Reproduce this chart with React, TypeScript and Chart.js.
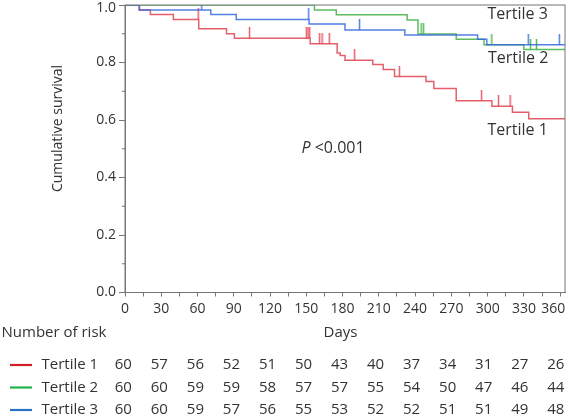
import React, { useEffect, useRef } from 'react';
import { Chart, registerables } from 'chart.js';

Chart.register(...registerables);

// ---------- data ----------
const xTickLabels = [0, 30, 60, 90, 120, 150, 180, 210, 240, 270, 300, 330, 360];
const yTickLabels = [0, 0.2, 0.4, 0.6, 0.8, 1.0];

// Tertile 1 (red)
const t1Days = [0, 12, 21, 40, 61, 84, 90.5, 153.2, 175.5, 178, 182, 205, 213.6, 223, 249, 255.5, 274, 303.5, 320.5, 334, 364];
const t1Surv = [1, 0.983, 0.967, 0.95, 0.917, 0.9, 0.884, 0.865, 0.833, 0.824, 0.808, 0.793, 0.776, 0.751, 0.734, 0.71, 0.667, 0.648, 0.627, 0.604, 0.604];
const t1Censor = [60.5, 103, 150, 151.4, 152.8, 161, 163, 169, 190, 227, 295, 309, 318.6];

// Tertile 2 (green)
const t2Days = [0, 156.7, 174.8, 233.4, 242.4, 274, 297, 330, 364];
const t2Surv = [1, 0.983, 0.966, 0.948, 0.899, 0.881, 0.862, 0.845, 0.845];
const t2Censor = [245, 247, 303.5, 335.5, 340.4];

// Tertile 3 (blue)
const t3Days = [0, 11.7, 71, 92, 152.3, 182, 231.5, 291.7, 299.3, 364];
const t3Surv = [1, 0.983, 0.967, 0.95, 0.934, 0.913, 0.896, 0.881, 0.862, 0.862];
const t3Censor = [63.5, 152, 194, 333.6, 359.3];

// Number at risk
const riskNames = ['Tertile 1', 'Tertile 2', 'Tertile 3'];
const riskT1 = [60, 57, 56, 52, 51, 50, 43, 40, 37, 34, 31, 27, 26];
const riskT2 = [60, 60, 59, 59, 58, 57, 57, 55, 54, 50, 47, 46, 44];
const riskT3 = [60, 60, 59, 57, 56, 55, 53, 52, 52, 51, 51, 49, 48];

// ---------- style ----------
const FONT = "'Open Sans', 'Noto Sans', sans-serif";
const AXIS = '#767676';
const TEXT = '#333333';
const RED = 'rgba(226, 66, 82, 0.85)';
const GREEN = 'rgba(64, 176, 64, 0.85)';
const BLUE = 'rgba(52, 106, 222, 0.85)';
const LEG_RED = '#d2202a';
const LEG_GREEN = '#22b04a';
const LEG_BLUE = '#2a72c4';

function survAt(days: number[], surv: number[], t: number) {
  let v = surv[0];
  for (let i = 0; i < days.length; i++) if (days[i] <= t) v = surv[i];
  return v;
}

function makeTick(color: string) {
  const c = document.createElement('canvas');
  c.width = 3;
  c.height = 22;
  const g = c.getContext('2d')!;
  g.strokeStyle = color;
  g.lineWidth = 1.5;
  g.beginPath();
  g.moveTo(1.5, 0);
  g.lineTo(1.5, 11);
  g.stroke();
  return c;
}

const overlay = {
  id: 'overlay',
  afterDatasetsDraw(chart: any) {
    const { ctx, chartArea: a, scales } = chart;
    const y = scales.y;
    ctx.save();
    ctx.strokeStyle = AXIS;
    ctx.lineWidth = 1;
    ctx.strokeRect(a.left, a.top, a.right - a.left, a.bottom - a.top);
    // minor y ticks
    ctx.beginPath();
    for (let v = 0.1; v < 1; v += 0.2) {
      const py = y.getPixelForValue(v);
      ctx.moveTo(a.left - 3, py);
      ctx.lineTo(a.left, py);
    }
    ctx.stroke();
    ctx.restore();
  },
  afterDraw(chart: any) {
    const { ctx, chartArea: a, scales } = chart;
    const x = scales.x;
    ctx.save();
    ctx.fillStyle = TEXT;
    // shifted edge tick labels
    ctx.font = `14px ${FONT}`;
    ctx.textBaseline = 'middle';
    ctx.textAlign = 'right';
    ctx.fillText('1.0', a.left - 9, 8.5);
    ctx.textAlign = 'center';
    ctx.fillText('360', x.getPixelForValue(360) - 7, a.bottom + 16.4);

    // y title
    ctx.save();
    ctx.translate(58, 128.5);
    ctx.rotate(-Math.PI / 2);
    ctx.textAlign = 'center';
    ctx.font = `14px ${FONT}`;
    ctx.fillText('Cumulative survival', 0, 0);
    ctx.restore();

    // curve labels
    ctx.font = `16px ${FONT}`;
    ctx.textAlign = 'left';
    ctx.fillText('Tertile 3', 487.5, 14.5);
    ctx.fillText('Tertile 2', 488, 58.5);
    ctx.fillText('Tertile 1', 487.5, 130);

    // P value
    ctx.font = `italic 16px ${FONT}`;
    ctx.fillText('P', 301.5, 148);
    const pw = ctx.measureText('P').width;
    ctx.font = `16px ${FONT}`;
    ctx.fillText(' <0.001', 301.5 + pw, 148);

    // table titles
    ctx.font = `15px ${FONT}`;
    ctx.fillText('Number of risk', 1.5, 332.5);
    ctx.textAlign = 'center';
    ctx.fillText('Days', 340.5, 333);

    // risk table
    const rows = [riskT1, riskT2, riskT3];
    const legColors = [LEG_RED, LEG_GREEN, LEG_BLUE];
    const rowY = [365, 387.5, 410];
    const colStart = 123.3;
    const colStep = 36.04;
    rows.forEach((row, r) => {
      ctx.strokeStyle = legColors[r];
      ctx.lineWidth = 2.2;
      ctx.beginPath();
      ctx.moveTo(10, rowY[r]);
      ctx.lineTo(32, rowY[r]);
      ctx.stroke();
      ctx.textAlign = 'left';
      ctx.fillText(riskNames[r], 41.5, rowY[r]);
      ctx.textAlign = 'center';
      row.forEach((n, i) => {
        ctx.fillText(String(n), colStart + i * colStep, rowY[r]);
      });
    });
    ctx.restore();
  },
};

export default function App() {
  const ref = useRef<HTMLCanvasElement>(null);

  useEffect(() => {
    document.body.style.margin = '0';
    Chart.defaults.font.family = FONT;
    const mk = (d: number[], s: number[]) => d.map((v, i) => ({ x: v, y: s[i] }));
    const cz = (c: number[], d: number[], s: number[]) => c.map((v) => ({ x: v, y: survAt(d, s, v) }));

    const lineDs = (label: string, data: any[], color: string) => ({
      label,
      data,
      borderColor: color,
      borderWidth: 1.5,
      stepped: 'before' as const,
      pointRadius: 0,
      fill: false,
      clip: 0,
    });
    const censorDs = (label: string, data: any[], color: string) => ({
      label,
      data,
      showLine: false,
      pointStyle: makeTick(color),
      pointRadius: 3,
      borderColor: color,
      backgroundColor: color,
      clip: 0,
    });

    const chart = new Chart(ref.current!, {
      type: 'line',
      data: {
        datasets: [
          lineDs('Tertile 3', mk(t3Days, t3Surv), BLUE),
          censorDs('Tertile 3 censored', cz(t3Censor, t3Days, t3Surv), BLUE),
          lineDs('Tertile 2', mk(t2Days, t2Surv), GREEN),
          censorDs('Tertile 2 censored', cz(t2Censor, t2Days, t2Surv), GREEN),
          lineDs('Tertile 1', mk(t1Days, t1Surv), RED),
          censorDs('Tertile 1 censored', cz(t1Censor, t1Days, t1Surv), RED),
        ] as any,
      },
      options: {
        animation: false,
        responsive: false,
        devicePixelRatio: 1,
        events: [],
        layout: { padding: { top: 1.5, right: 2.3, left: 0, bottom: 0 } },
        plugins: { legend: { display: false }, tooltip: { enabled: false } },
        scales: {
          x: {
            type: 'linear',
            min: 0,
            max: 364,
            bounds: 'data',
            afterFit(s: any) {
              s.height = 127.5;
              s.paddingLeft = 0;
              s.paddingRight = 0;
            },
            ticks: {
              stepSize: 15,
              autoSkip: false,
              includeBounds: false,
              maxRotation: 0,
              minRotation: 0,
              padding: 4,
              color: TEXT,
              font: { size: 14, family: FONT },
              callback: (v: any) => (xTickLabels.includes(v) && v !== 360 ? String(v) : ''),
            },
            grid: {
              drawOnChartArea: false,
              tickLength: 4,
              color: AXIS,
              tickColor: (c: any) => (c.tick && c.tick.value > 360 ? 'rgba(0,0,0,0)' : AXIS),
            },
            border: { color: AXIS, width: 1 },
          },
          y: {
            type: 'linear',
            min: 0,
            max: 1,
            afterFit(s: any) {
              s.width = 125;
              s.paddingTop = 0;
              s.paddingBottom = 0;
            },
            ticks: {
              stepSize: 0.2,
              padding: 3,
              color: TEXT,
              font: { size: 14, family: FONT },
              callback: (v: any) => {
                const n = Number(v);
                const lab = yTickLabels.find((t) => Math.abs(t - n) < 1e-6);
                if (lab === undefined || Math.abs(lab - 1) < 1e-6) return '';
                return lab.toFixed(1);
              },
            },
            grid: { drawOnChartArea: false, tickLength: 6, color: AXIS },
            border: { color: AXIS, width: 1 },
          },
        },
      } as any,
      plugins: [overlay],
    });
    return () => chart.destroy();
  }, []);

  return (
    <div style={{ position: 'fixed', left: 0, top: 0, width: 570, height: 420, background: '#fff' }}>
      <canvas ref={ref} width={570} height={420} style={{ display: 'block', width: 570, height: 420 }} />
    </div>
  );
}
